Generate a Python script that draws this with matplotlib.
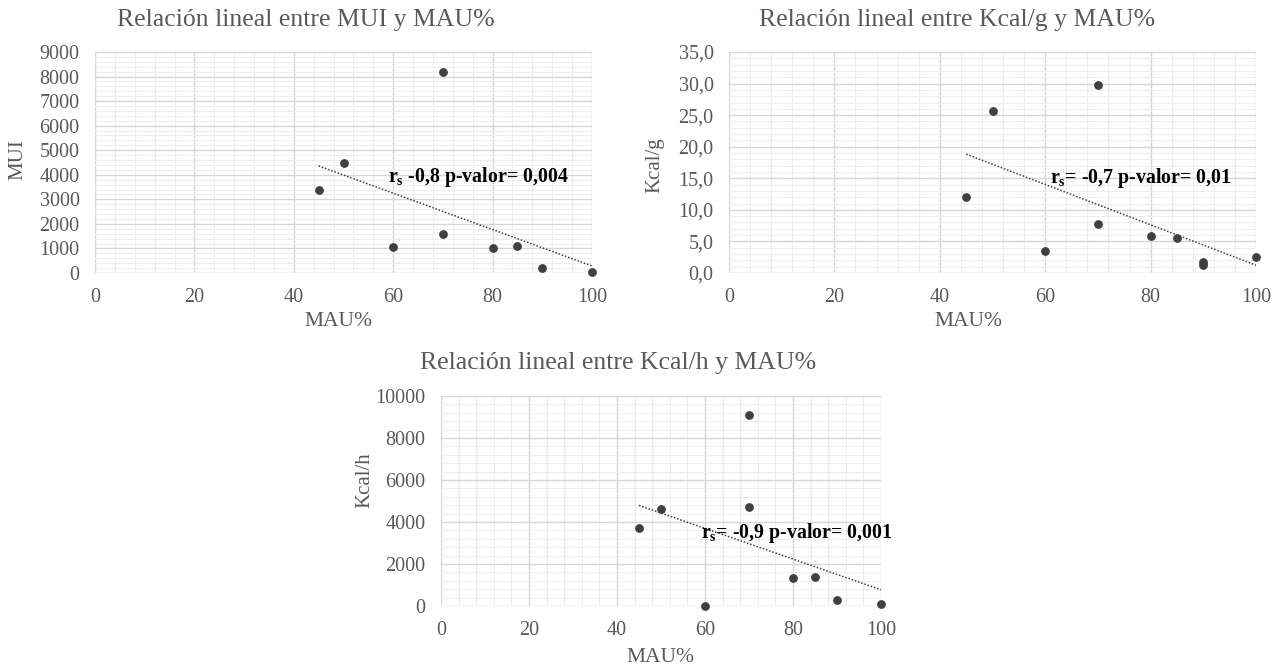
import matplotlib
matplotlib.use("Agg")
import matplotlib.pyplot as plt
import numpy as np
from matplotlib.ticker import MultipleLocator, FuncFormatter

plt.rcParams['font.family'] = ['Liberation Serif', 'DejaVu Serif']
plt.rcParams['mathtext.fontset'] = 'custom'
plt.rcParams['mathtext.rm'] = 'Liberation Serif'
plt.rcParams['mathtext.bf'] = 'Liberation Serif:bold'
plt.rcParams['mathtext.it'] = 'Liberation Serif:italic'

# Data
mau_mui = [45, 50, 60, 70, 70, 80, 85, 90, 100]
mui = [3400, 4500, 1050, 8200, 1600, 1000, 1100, 200, 50]

mau_kg = [45, 50, 60, 70, 70, 80, 85, 90, 90, 100]
kcal_g = [12.1, 25.6, 3.5, 29.7, 7.8, 5.8, 5.5, 1.8, 1.2, 2.5]

mau_kh = [45, 50, 60, 70, 70, 80, 85, 90, 100]
kcal_h = [3700, 4600, 0, 9100, 4700, 1350, 1400, 300, 80]

grey = '#595959'
dot = '#404040'

fig = plt.figure(figsize=(12.8, 6.69), dpi=100)


def scatter(rect, x, y, ymax, ymaj, ymin, yfmt, ylabel, title, title_xy,
            ylab_xy, xlab_xy, note, note_xy):
    ax = fig.add_axes(rect)
    ax.set_xlim(0, 100)
    ax.set_ylim(0, ymax)
    ax.xaxis.set_major_locator(MultipleLocator(20))
    ax.xaxis.set_minor_locator(MultipleLocator(4))
    ax.yaxis.set_major_locator(MultipleLocator(ymaj))
    ax.yaxis.set_minor_locator(MultipleLocator(ymin))
    ax.yaxis.set_major_formatter(FuncFormatter(yfmt))
    ax.grid(which='major', color='#d6d6d6', lw=1.0)
    ax.grid(which='minor', color='#ededed', lw=0.8)
    ax.set_axisbelow(True)
    for s in ax.spines.values():
        s.set_visible(False)
    ax.tick_params(which='both', length=0, colors=grey, labelsize=14.5)
    ax.tick_params(axis='y', pad=11)
    ax.tick_params(axis='x', pad=11)

    ax.scatter(x, y, s=28, color=dot, zorder=3, clip_on=False)
    k, b = np.polyfit(x, y, 1)
    xs = np.array([min(x), max(x)])
    ax.plot(xs, k * xs + b, ls=(0, (1, 1.2)), color='#404040', lw=1.1, zorder=2)
    ax.text(note_xy[0], note_xy[1], note, fontsize=14.3, fontweight='bold',
            color='black', va='center', ha='left', zorder=4)

    fig.text(title_xy[0] / 1280, 1 - title_xy[1] / 669, title, fontsize=18.5,
             color=grey, ha='center', va='center')
    fig.text(ylab_xy[0] / 1280, 1 - ylab_xy[1] / 669, ylabel, fontsize=15,
             color=grey, ha='center', va='center', rotation=90)
    fig.text(xlab_xy[0] / 1280, 1 - xlab_xy[1] / 669, 'MAU%', fontsize=15.5,
             color=grey, ha='center', va='center')
    return ax


int_fmt = lambda v, p: f'{v:.0f}'
dec_fmt = lambda v, p: f'{v:.1f}'.replace('.', ',')

scatter([95 / 1280, 1 - 273 / 669, 497 / 1280, 221 / 669],
        mau_mui, mui, 9000, 1000, 200, int_fmt, 'MUI',
        'Relación lineal entre MUI y MAU%', (306, 20),
        (18, 160), (338, 322),
        r'r$_{\mathbf{s}}$ -0,8 p-valor= 0,004', (59, 3910))

scatter([729 / 1280, 1 - 273 / 669, 527 / 1280, 221 / 669],
        mau_kg, kcal_g, 35, 5, 1, dec_fmt, 'Kcal/g',
        'Relación lineal entre Kcal/g y MAU%', (957, 20),
        (655, 165), (968, 322),
        r'r$_{\mathbf{s}}$= -0,7 p-valor= 0,01', (61, 15.0))

scatter([441 / 1280, 1 - 606 / 669, 440 / 1280, 210 / 669],
        mau_kh, kcal_h, 10000, 2000, 400, int_fmt, 'Kcal/h',
        'Relación lineal entre Kcal/h y MAU%', (618, 363),
        (365, 480), (660, 658),
        r'r$_{\mathbf{s}}$= -0,9 p-valor= 0,001', (59, 3476))

fig.savefig('out.png', dpi=100)
